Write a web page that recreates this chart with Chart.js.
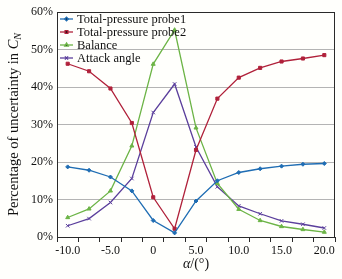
<!DOCTYPE html>
<html><head><meta charset="utf-8">
<script src="https://cdn.jsdelivr.net/npm/chart.js@4.4.0/dist/chart.umd.min.js"></script>
<style>html,body{margin:0;padding:0;background:#fffffc;}#wrap{width:342px;height:279px;}</style>
</head><body><div id="wrap"><canvas id="c" width="342" height="279"></canvas></div>
<script>
const categories = ["-10.0","-7.5","-5.0","-2.5","0","2.5","5.0","7.5","10.0","12.5","15.0","17.5","20.0"];
const probe1 = [18.7,17.8,16.0,12.3,4.4,1.1,9.6,15.0,17.2,18.2,18.9,19.4,19.6];
const probe2 = [46.2,44.2,39.6,30.4,10.6,2.2,23.2,36.9,42.5,45.1,46.8,47.6,48.5];
const balance = [5.2,7.5,12.3,24.3,46.1,55.2,29.1,14.3,7.4,4.4,2.8,2.0,1.3];
const attack = [3.0,4.9,9.2,15.6,33.2,40.8,24.0,13.4,8.3,6.2,4.3,3.4,2.4];
const seriesNames = ["Total-pressure probe1","Total-pressure probe2","Balance","Attack angle"];
const yTicks = [0,10,20,30,40,50,60];

const serif = "'Liberation Serif','Times New Roman',serif";
const mk = (label, data, color, style, r) => ({
  label, data, borderColor: color, backgroundColor: color, borderWidth: 1.3,
  pointStyle: style, pointRadius: r, pointBorderWidth: 1, pointHoverRadius: r, tension: 0
});

const frame = {
  id: 'frame',
  afterDraw(chart) {
    const {ctx, chartArea: a} = chart;
    ctx.save();
    ctx.strokeStyle = '#2a2a2a'; ctx.lineWidth = 1;
    ctx.strokeRect(Math.round(a.left)+0.5, Math.round(a.top)+0.5, Math.round(a.right-a.left)-1, Math.round(a.bottom-a.top));
    // legend
    ctx.font = '12.5px ' + serif; ctx.textBaseline = 'middle'; ctx.fillStyle = '#111';
    chart.data.datasets.forEach((ds, i) => {
      const y = a.top + 7 + i * 13;
      ctx.strokeStyle = ds.borderColor; ctx.lineWidth = 1.3;
      ctx.beginPath(); ctx.moveTo(a.left + 3, y); ctx.lineTo(a.left + 16, y); ctx.stroke();
      Chart.helpers.drawPoint(ctx, {pointStyle: ds.pointStyle, radius: ds.pointRadius * 0.9, borderWidth: 1, rotation: 0}, a.left + 9.5, y);
      ctx.fillStyle = '#111';
      ctx.fillText(ds.label, a.left + 20, y + 0.5);
    });
    // y title
    ctx.save();
    ctx.translate(14, (a.top + a.bottom) / 2);
    ctx.rotate(-Math.PI / 2);
    const t1 = 'Percentage of uncertainty in ';
    ctx.font = '14.5px ' + serif;
    const w1 = ctx.measureText(t1).width;
    ctx.font = 'italic 14.5px ' + serif;
    const w2 = ctx.measureText('C').width;
    ctx.font = 'italic 10px ' + serif;
    const w3 = ctx.measureText('N').width;
    let x = -(w1 + w2 + w3) / 2;
    ctx.textBaseline = 'middle'; ctx.textAlign = 'left'; ctx.fillStyle = '#111';
    ctx.font = '14.5px ' + serif; ctx.fillText(t1, x, 0); x += w1;
    ctx.font = 'italic 14.5px ' + serif; ctx.fillText('C', x, 0); x += w2;
    ctx.font = 'italic 10px ' + serif; ctx.fillText('N', x, 4);
    ctx.restore();
    // x title
    const cx = (a.left + a.right) / 2;
    ctx.textBaseline = 'middle'; ctx.textAlign = 'left';
    ctx.font = 'italic 14px ' + serif;
    const wa = ctx.measureText('\u03b1').width;
    ctx.font = '14px ' + serif;
    const wb = ctx.measureText('/(\u00b0)').width;
    let xx = cx - (wa + wb) / 2;
    ctx.font = 'italic 14px ' + serif; ctx.fillText('\u03b1', xx, 264);
    ctx.font = '14px ' + serif; ctx.fillText('/(\u00b0)', xx + wa, 264);
    ctx.restore();
  }
};

new Chart(document.getElementById('c'), {
  type: 'line',
  data: {
    labels: categories,
    datasets: [
      mk(seriesNames[0], probe1, '#1f6db3', 'rectRot', 2),
      mk(seriesNames[1], probe2, '#b0213a', 'rect', 2.2),
      mk(seriesNames[2], balance, '#6cb446', 'triangle', 2.3),
      mk(seriesNames[3], attack, '#5b3f9c', 'crossRot', 2.5)
    ]
  },
  options: {
    responsive: false, animation: false, devicePixelRatio: 1,
    layout: {padding: {left: 0, top: 12, right: 7, bottom: 0}},
    plugins: {legend: {display: false}, tooltip: {enabled: false}},
    scales: {
      x: {
        type: 'category', offset: true,
        grid: {offset: true, drawOnChartArea: false, tickLength: 5, color: '#2a2a2a'},
        border: {color: '#2a2a2a'},
        ticks: {autoSkip: false, maxRotation: 0, padding: 2, color: '#111', font: {family: serif, size: 12},
          callback: (v, i) => i % 2 === 0 ? categories[i] : ''},
        afterFit: s => { s.height = 42; }
      },
      y: {
        min: 0, max: 60,
        afterBuildTicks: s => { s.ticks = yTicks.map(v => ({value: v})); },
        grid: {color: '#b4b4b4', tickLength: 3, drawTicks: false},
        border: {color: '#2a2a2a'},
        ticks: {padding: 4, color: '#111', font: {family: serif, size: 12}, callback: v => v + '%'},
        afterFit: s => { s.width = 57; }
      }
    }
  },
  plugins: [frame]
});
</script></body></html>
